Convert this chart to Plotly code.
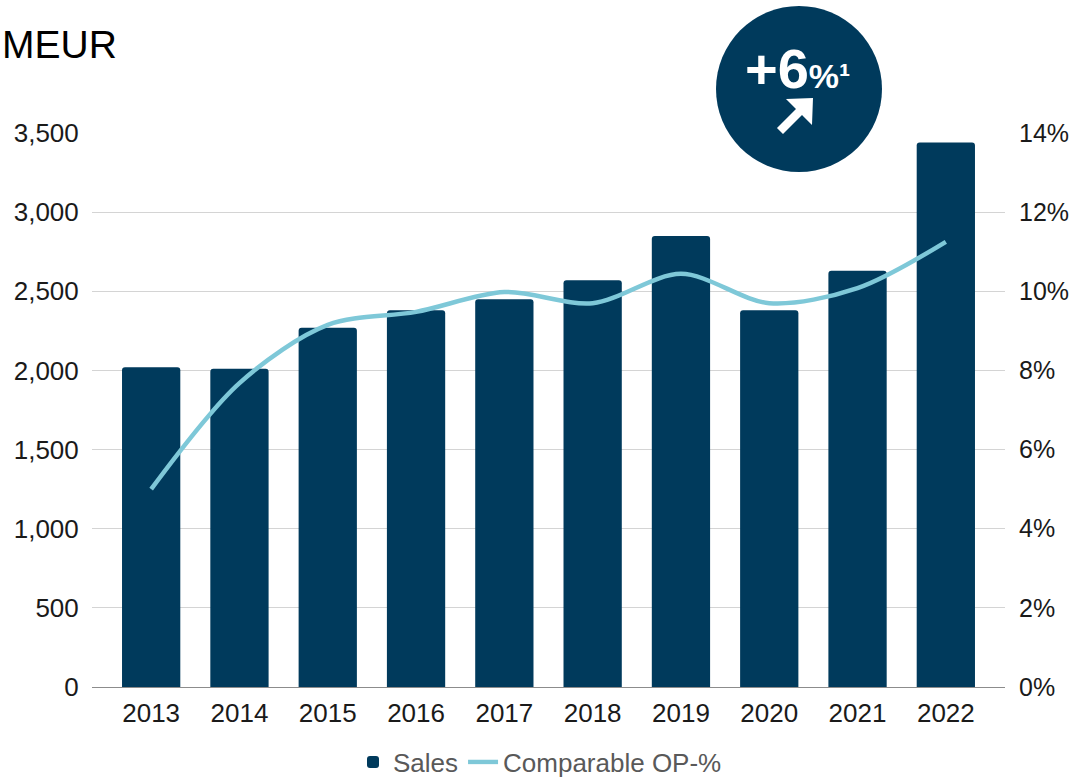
import plotly.graph_objects as go

years = ["2013", "2014", "2015", "2016", "2017", "2018", "2019", "2020", "2021", "2022"]
sales = [2020, 2010, 2270, 2380, 2450, 2570, 2850, 2380, 2630, 3440]
op_pct = [0.050, 0.0768, 0.0915, 0.0948, 0.0998, 0.0970, 0.1044, 0.0970, 0.1008, 0.1125]

NAVY = "#003a5c"
TEAL = "#7ec8d8"
FONT = "Liberation Sans, Arial, sans-serif"

# plot area in pixels
L, R, T, B = 92, 68, 133, 90
W, H = 1073 - L - R, 777 - T - B


def px(x):
    return (x - L) / W


def py(y):
    return (777 - B - y) / H


fig = go.Figure()

fig.add_trace(go.Bar(
    x=years, y=sales, name="Sales",
    marker=dict(color=NAVY, cornerradius=3, line=dict(width=0)),
    width=0.66,
))
fig.add_trace(go.Scatter(
    x=years, y=op_pct, name="Comparable OP-%", yaxis="y2",
    mode="lines", line=dict(color=TEAL, width=4.5, shape="spline", smoothing=0.9),
))

fig.update_layout(
    width=1073, height=777,
    margin=dict(l=L, r=R, t=T, b=B, autoexpand=False),
    plot_bgcolor="white", paper_bgcolor="white",
    font=dict(family=FONT, size=26, color="#1a1a1a"),
    xaxis=dict(
        type="category", range=[-0.67, 9.67], automargin=False,
        showgrid=False, showline=True, linecolor="#8c8c8c", linewidth=1.2,
        ticks="outside", ticklen=3, tickcolor="white",
        tickfont=dict(size=26, color="#1a1a1a"),
    ),
    yaxis=dict(
        range=[0, 3500], dtick=500, tickformat=",d", automargin=False,
        showgrid=True, gridcolor="#d4d4d4", gridwidth=1, zeroline=False,
        ticks="outside", ticklen=7, tickcolor="white",
        tickfont=dict(size=26, color="#1a1a1a"),
    ),
    yaxis2=dict(
        overlaying="y", side="right", range=[0, 0.14], dtick=0.02, tickformat=".0%",
        showgrid=False, zeroline=False, automargin=False,
        ticks="outside", ticklen=8, tickcolor="white",
        tickfont=dict(size=25, color="#1a1a1a"),
    ),
    legend=dict(
        orientation="h", x=px(540), xanchor="center", y=py(762), yanchor="middle",
        font=dict(size=26, color="#595959"), itemwidth=30,
        traceorder="normal",
    ),
    separators=".,",
)

# title at the top left
fig.add_annotation(
    text="MEUR", xref="paper", yref="paper", x=px(0), y=py(45),
    xanchor="left", yanchor="middle", showarrow=False,
    font=dict(size=39, color="#000000", family=FONT),
)

# growth badge
fig.add_shape(
    type="circle", xref="paper", yref="paper",
    x0=px(716), x1=px(882), y0=py(172), y1=py(6),
    fillcolor=NAVY, line=dict(width=0), layer="above",
)
fig.add_annotation(
    text="<b>+6</b><b><span style='font-size:34px'>%¹</span></b>",
    xref="paper", yref="paper", x=px(797), y=py(69),
    xanchor="center", yanchor="middle", showarrow=False,
    font=dict(size=56, color="white", family=FONT),
)

# arrow drawn as a filled polygon
arrow_pts = [(813, 98), (786, 99), (796, 109), (777, 128),
             (783, 134), (802, 115), (812, 125)]
path = "M " + " L ".join(f"{px(x):.5f},{py(y):.5f}" for x, y in arrow_pts) + " Z"
fig.add_shape(type="path", xref="paper", yref="paper", path=path,
              fillcolor="white", line=dict(width=0), layer="above")

fig.write_html("out.html", config={"displayModeBar": False},
               post_script="document.body.style.margin='0';")
